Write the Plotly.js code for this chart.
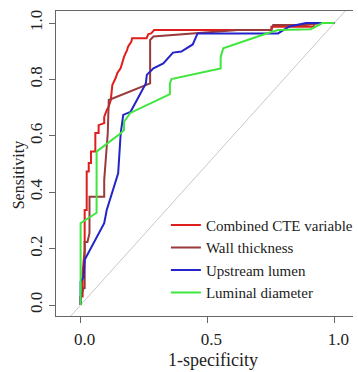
<!DOCTYPE html>
<html>
<head>
<meta charset="utf-8">
<script src="https://cdn.plot.ly/plotly-3.0.1.min.js"></script>
<style>html,body{margin:0;padding:0;overflow:hidden;background:#fff}#chart{width:358px;height:372px}</style>
</head>
<body>
<div id="chart"></div>
<script>
// Series names
var seriesNames = ["Combined CTE variable", "Wall thickness", "Upstream lumen", "Luminal diameter"];

// Combined CTE variable (1-specificity, sensitivity)
var combinedX = [0, 0, 0.008, 0.008, 0.016, 0.016, 0.024, 0.024, 0.032, 0.032, 0.041, 0.041, 0.058, 0.058, 0.071, 0.071, 0.093, 0.093, 0.103, 0.110, 0.119, 0.125, 0.138, 0.145, 0.158, 0.171, 0.183, 0.187, 0.200, 0.203, 0.260, 0.267, 0.278, 0.290, 0.752, 0.752, 0.919, 0.919, 1.0];
var combinedY = [0, 0.030, 0.030, 0.117, 0.195, 0.337, 0.337, 0.473, 0.473, 0.504, 0.504, 0.544, 0.544, 0.610, 0.610, 0.638, 0.645, 0.667, 0.691, 0.702, 0.727, 0.780, 0.805, 0.823, 0.840, 0.880, 0.904, 0.916, 0.934, 0.946, 0.946, 0.961, 0.963, 0.975, 0.975, 0.987, 0.987, 1.0, 1.0];

// Wall thickness
var wallX = [0, 0, 0.012, 0.016, 0.016, 0.027, 0.035, 0.035, 0.093, 0.093, 0.107, 0.111, 0.111, 0.274, 0.274, 0.287, 0.512, 0.620, 0.752, 0.759, 0.888, 0.952, 1.0];
var wallY = [0, 0.028, 0.060, 0.060, 0.223, 0.223, 0.255, 0.384, 0.384, 0.443, 0.610, 0.703, 0.727, 0.786, 0.940, 0.952, 0.966, 0.975, 0.975, 0.993, 0.993, 1.0, 1.0];

// Upstream lumen
var upstreamX = [0, 0, 0.012, 0.016, 0.093, 0.103, 0.148, 0.158, 0.168, 0.197, 0.222, 0.257, 0.261, 0.287, 0.326, 0.364, 0.397, 0.442, 0.461, 0.778, 0.823, 0.888, 1.0];
var upstreamY = [0, 0.082, 0.100, 0.160, 0.290, 0.337, 0.467, 0.609, 0.674, 0.685, 0.727, 0.786, 0.816, 0.839, 0.857, 0.895, 0.899, 0.924, 0.963, 0.963, 0.988, 1.0, 1.0];

// Luminal diameter
var luminalX = [0, 0, 0, 0.063, 0.063, 0.158, 0.171, 0.171, 0.196, 0.352, 0.352, 0.358, 0.552, 0.552, 0.562, 0.733, 0.778, 0.907, 0.953, 1.0];
var luminalY = [0, 0.030, 0.290, 0.327, 0.544, 0.609, 0.620, 0.650, 0.681, 0.748, 0.786, 0.801, 0.839, 0.879, 0.910, 0.963, 0.975, 0.978, 1.0, 1.0];

// Reference diagonal (chance line)
var diagX = [-0.2, 1.2];
var diagY = [-0.2, 1.2];

// Tick labels
var xTickVals = [0, 0.5, 1];
var xTickText = ["0.0", "0.5", "1.0"];
var yTickVals = [0, 0.2, 0.4, 0.6, 0.8, 1.0];
var yTickText = ["0.0", "0.2", "0.4", "0.6", "0.8", "1.0"];

var colors = ["#e01e1e", "#9a3a3a", "#2424c8", "#3ee63e"];
var serif = "Liberation Serif, Times New Roman, serif";

var traces = [
  {x: diagX, y: diagY, mode: "lines", line: {color: "#c8c8c8", width: 1}, showlegend: false, hoverinfo: "skip"},
  {x: combinedX, y: combinedY, name: seriesNames[0], mode: "lines", line: {color: colors[0], width: 2}},
  {x: wallX, y: wallY, name: seriesNames[1], mode: "lines", line: {color: colors[1], width: 2}},
  {x: upstreamX, y: upstreamY, name: seriesNames[2], mode: "lines", line: {color: colors[2], width: 2}},
  {x: luminalX, y: luminalY, name: seriesNames[3], mode: "lines", line: {color: colors[3], width: 2}}
];

var layout = {
  width: 358, height: 372,
  margin: {l: 56, r: 0, t: 11, b: 56, pad: 0},
  paper_bgcolor: "#fff", plot_bgcolor: "#fff",
  font: {family: serif, color: "#222"},
  xaxis: {
    range: [-0.097, 1.0736], tickvals: xTickVals, ticktext: xTickText,
    ticks: "outside", ticklen: 6, tickcolor: "#666", tickwidth: 1,
    showline: true, linecolor: "#666", linewidth: 1, mirror: true,
    showgrid: false, zeroline: false, ticklabelshift: 4, ticklabelstandoff: 2,
    tickfont: {family: serif, size: 17, color: "#222"}
  },
  yaxis: {
    range: [-0.039, 1.0426], tickvals: yTickVals, ticktext: yTickText,
    ticks: "outside", ticklen: 6, tickcolor: "#666", tickwidth: 1,
    showline: true, linecolor: "#666", linewidth: 1, mirror: false,
    showgrid: false, zeroline: false, tickangle: -90,
    tickfont: {family: serif, size: 17, color: "#222"}
  },
  showlegend: true,
  legend: {
    x: 0.37, y: 0.352, xanchor: "left", yanchor: "top",
    bgcolor: "rgba(0,0,0,0)", borderwidth: 0,
    font: {family: serif, size: 15, color: "#222"},
    tracegroupgap: 0
  },
  annotations: [
    {text: "1-specificity", xref: "paper", yref: "paper", x: 0.53, y: -0.143, xanchor: "center", yanchor: "middle", showarrow: false, font: {family: serif, size: 18, color: "#222"}},
    {text: "Sensitivity", xref: "paper", yref: "paper", x: -0.126, y: 0.46, xanchor: "center", yanchor: "middle", textangle: -90, showarrow: false, font: {family: serif, size: 16, color: "#222"}}
  ]
};

Plotly.newPlot("chart", traces, layout, {staticPlot: true, displayModeBar: false});
</script>
</body>
</html>
